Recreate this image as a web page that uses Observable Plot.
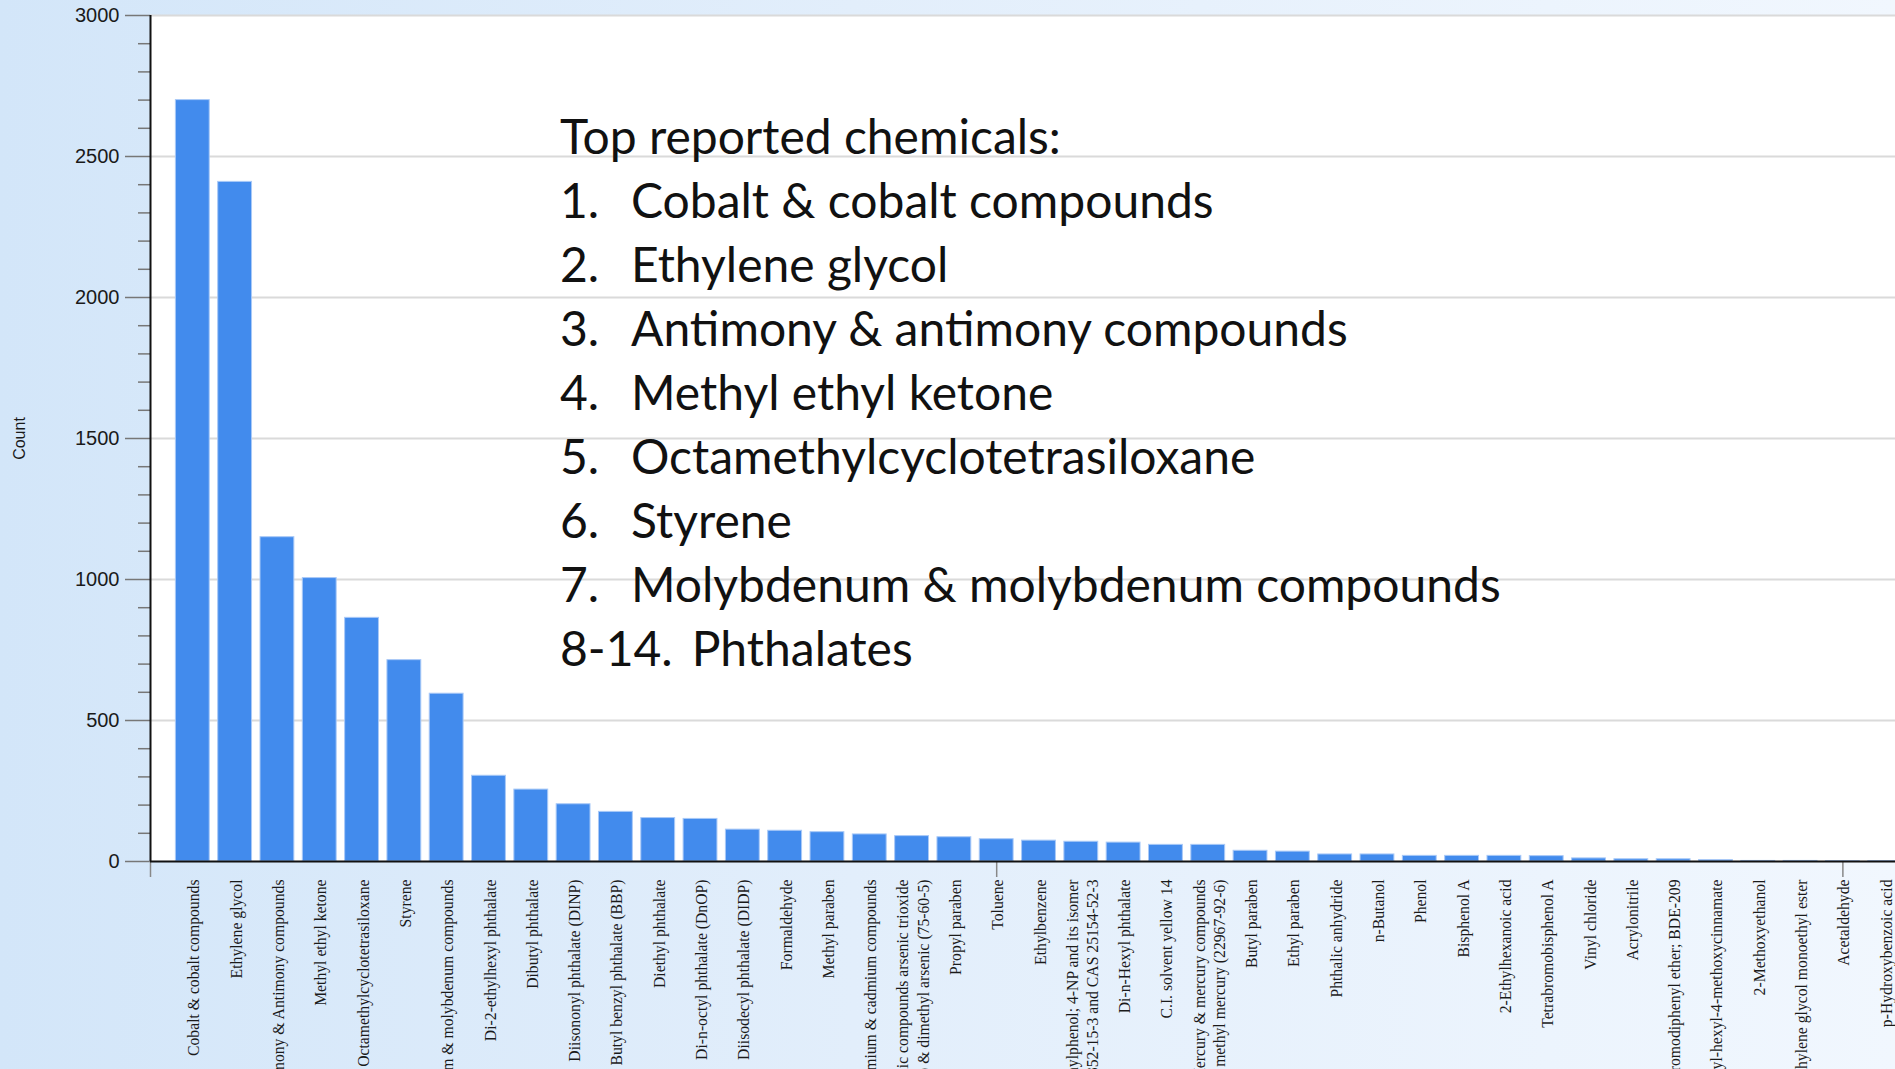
<!DOCTYPE html>
<html>
<head>
<meta charset="utf-8">
<script src="https://cdn.jsdelivr.net/npm/d3@7"></script>
<script src="https://cdn.jsdelivr.net/npm/@observablehq/plot@0.6"></script>
<style>
  html, body { margin: 0; padding: 0; width: 1895px; height: 1069px; overflow: hidden; }
  body {
    position: relative;
    background: linear-gradient(to right, #d3e6f9 0%, #e2eefb 45%, #f1f7fe 100%);
    font-family: "Liberation Sans", Arial, sans-serif;
  }
  #chart { position: absolute; left: 0; top: 0; width: 1927px; }
  #chart svg { max-width: none !important; }
  #notes {
    position: absolute; left: 560px; top: 104px;
    font-family: Lato, "Open Sans", sans-serif; font-size: 48px; line-height: 64px;
    color: #111; white-space: nowrap;
  }
  #notes .num { display: inline-block; box-sizing: border-box; min-width: 71px; padding-right: 19px; }
</style>
</head>
<body>
<div id="chart"></div>
<div id="notes"></div>
<script>
// ---- data ----
const chemicals = [
  "Cobalt & cobalt compounds",
  "Ethylene glycol",
  "Antimony & Antimony compounds",
  "Methyl ethyl ketone",
  "Octamethylcyclotetrasiloxane",
  "Styrene",
  "Molybdenum & molybdenum compounds",
  "Di-2-ethylhexyl phthalate",
  "Dibutyl phthalate",
  "Diisononyl phthalate (DINP)",
  "Butyl benzyl phthalate (BBP)",
  "Diethyl phthalate",
  "Di-n-octyl phthalate (DnOP)",
  "Diisodecyl phthalate (DIDP)",
  "Formaldehyde",
  "Methyl paraben",
  "Cadmium & cadmium compounds",
  "Arsenic & arsenic compounds arsenic trioxide\nincluding (1327-53-3) & dimethyl arsenic (75-60-5)",
  "Propyl paraben",
  "Toluene",
  "Ethylbenzene",
  "4-Nonylphenol; 4-NP and its isomer\nmixtures including CAS 84852-15-3 and CAS 25154-52-3",
  "Di-n-Hexyl phthalate",
  "C.I. solvent yellow 14",
  "Mercury & mercury compounds\nincluding methyl mercury (22967-92-6)",
  "Butyl paraben",
  "Ethyl paraben",
  "Phthalic anhydride",
  "n-Butanol",
  "Phenol",
  "Bisphenol A",
  "2-Ethylhexanoic acid",
  "Tetrabromobisphenol A",
  "Vinyl chloride",
  "Acrylonitrile",
  "Decabromodiphenyl ether; BDE-209",
  "2-Ethyl-hexyl-4-methoxycinnamate",
  "2-Methoxyethanol",
  "Ethylene glycol monoethyl ester",
  "Acetaldehyde",
  "p-Hydroxybenzoic acid"
];
const counts = [
  2700, 2410, 1150, 1005, 864, 714, 595, 304, 255, 203, 176, 154, 151, 113,
  109, 104, 96, 90, 86, 79, 74, 70, 67, 59, 59, 38, 35, 25, 25, 20, 20, 20,
  19, 11, 8, 8, 5, 2, 2, 1, 1
];
const yMajorTicks = [0, 500, 1000, 1500, 2000, 2500, 3000];
const yMinorTicks = [100, 200, 300, 400, 600, 700, 800, 900, 1100, 1200, 1300, 1400,
  1600, 1700, 1800, 1900, 2100, 2200, 2300, 2400, 2600, 2700, 2800, 2900];
const xGuideTicks = [0, 20, 40];
const yLabel = "Count";
const noteTitle = "Top reported chemicals:";
const noteNumbers = ["1.", "2.", "3.", "4.", "5.", "6.", "7.", "8-14."];
const noteItems = [
  "Cobalt & cobalt compounds",
  "Ethylene glycol",
  "Antimony & antimony compounds",
  "Methyl ethyl ketone",
  "Octamethylcyclotetrasiloxane",
  "Styrene",
  "Molybdenum & molybdenum compounds",
  "Phthalates"
];

// ---- table ----
const data = chemicals.map((name, i) => ({pos: i + 1, name, count: counts[i]}));

const chart = Plot.plot({
  width: 1927,
  height: 1200,
  marginLeft: 150,
  marginRight: 0,
  marginTop: 15,
  marginBottom: 339,
  x: {domain: [0, 42], axis: null},
  y: {domain: [0, 3000], axis: null},
  style: {background: "transparent", overflow: "visible", maxWidth: "none"},
  marks: [
    Plot.frame({fill: "white", stroke: null}),
    Plot.ruleY(yMajorTicks.filter(v => v > 0), {stroke: "#dadada", strokeWidth: 2}),
    Plot.rectY(data, {
      x1: d => d.pos - 0.4, x2: d => d.pos + 0.4, y: "count",
      fill: "#428bed", stroke: "#a9c9f7", strokeWidth: 1
    }),
    Plot.axisY({
      ticks: yMajorTicks, tickFormat: d3.format("d"), tickSize: 25, tickPadding: 6, fontSize: 20,
      fontFamily: "Liberation Sans, Arial, sans-serif",
      stroke: "#777", strokeWidth: 1.5, fill: "#1a1a1a", label: null
    }),
    Plot.axisY({
      ticks: yMinorTicks, tickSize: 12, tickFormat: () => "",
      stroke: "#777", strokeWidth: 1.5, label: null
    }),
    Plot.axisY({
      ticks: [], label: yLabel, labelAnchor: "center", labelOffset: 137, labelArrow: "none",
      fontSize: 16, fontFamily: "Liberation Sans, Arial, sans-serif", fill: "#1a1a1a"
    }),
    Plot.axisX({
      ticks: xGuideTicks, tickSize: 16, tickFormat: () => "",
      stroke: "#888", strokeWidth: 1.5, label: null
    }),
    Plot.axisX({
      ticks: data.map(d => d.pos), tickFormat: p => chemicals[p - 1],
      tickRotate: -90, tickSize: 0, tickPadding: 18, fontSize: 15.7, lineHeight: 1.3,
      fontFamily: "Liberation Serif, Times New Roman, serif", fill: "#1a1a1a", label: null
    }),
    Plot.ruleY([0], {stroke: "#111", strokeWidth: 2}),
    Plot.ruleX([0], {stroke: "#111", strokeWidth: 2})
  ]
});
document.getElementById("chart").appendChild(chart);

// ---- annotation text box ----
const notes = d3.select("#notes");
notes.append("div").text(noteTitle);
noteItems.forEach((t, i) => {
  const row = notes.append("div");
  row.append("span").attr("class", "num").text(noteNumbers[i]);
  row.append("span").text(t);
});
</script>
</body>
</html>
